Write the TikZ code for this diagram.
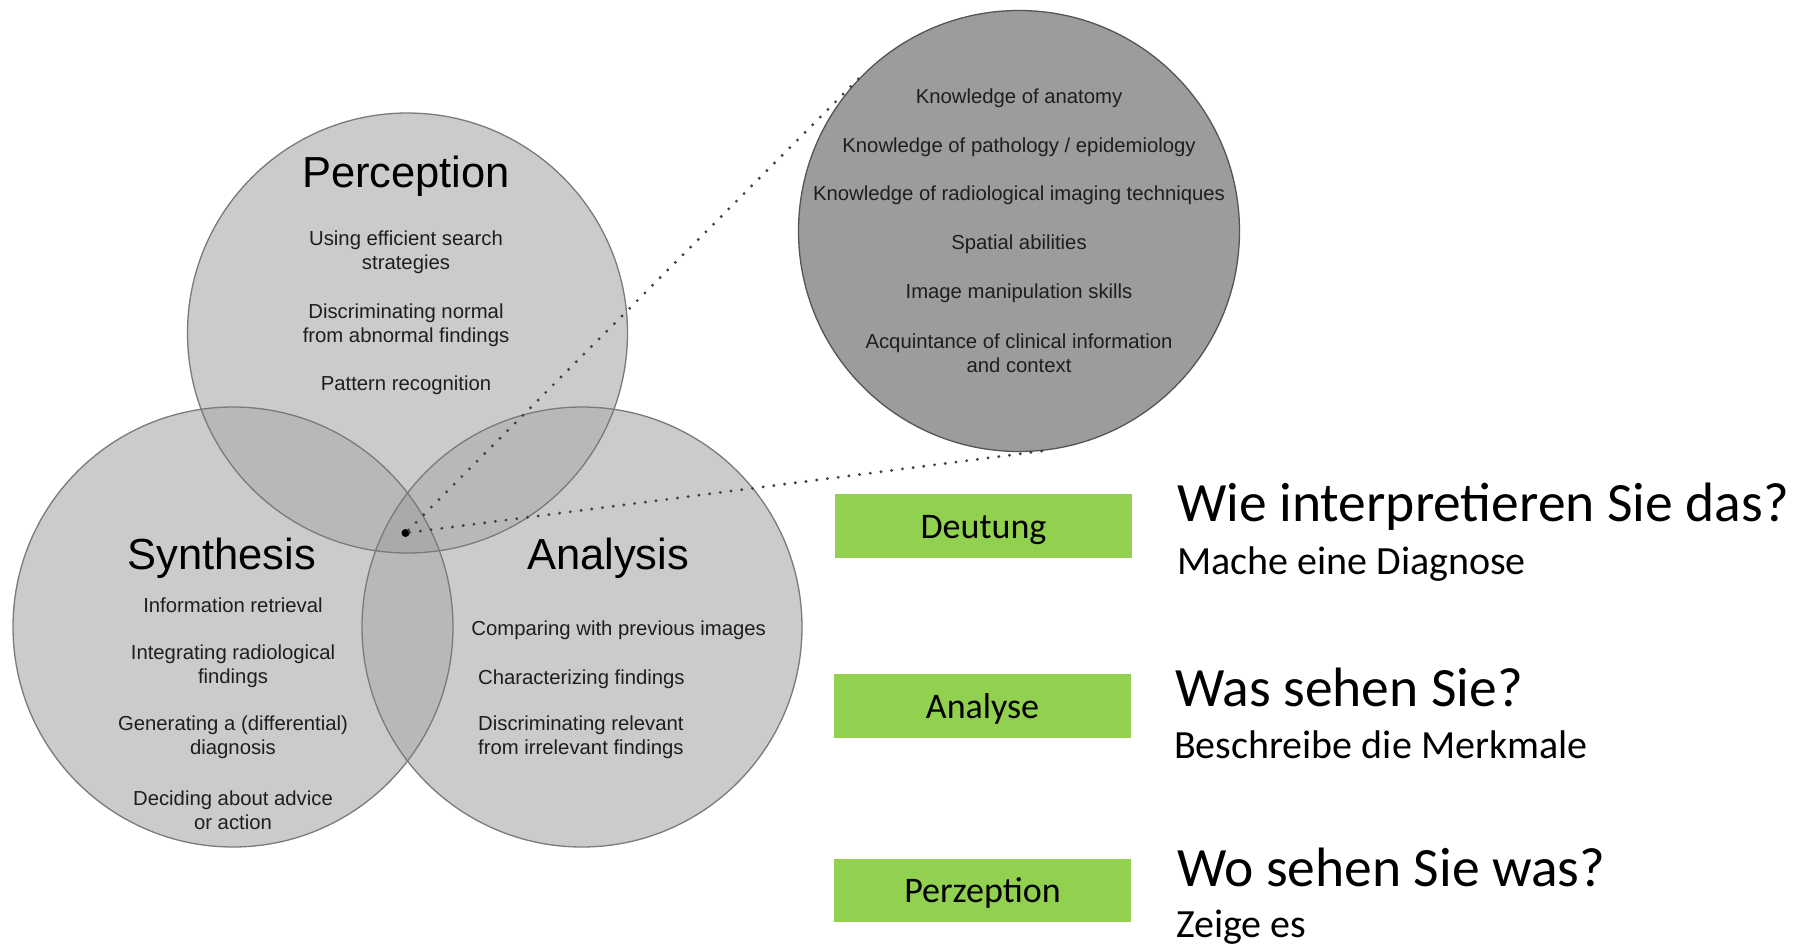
\documentclass[tikz,border=0pt]{standalone}
\usepackage{fontspec}
\setmainfont{Liberation Sans}
\newfontfamily\calib{Carlito}
\usetikzlibrary{calc}
\definecolor{venn}{HTML}{CBCBCB}
\definecolor{venntwo}{HTML}{B8B8B8}
\definecolor{vennthree}{HTML}{AAAAAA}
\definecolor{bigfill}{HTML}{9C9C9C}
\definecolor{rim}{HTML}{7A7A7A}
\definecolor{bigrim}{HTML}{555555}
\definecolor{ink}{HTML}{1E1E1E}
\definecolor{dotgray}{HTML}{404040}
\definecolor{lgreen}{HTML}{92D050}
\begin{document}
\begin{tikzpicture}[x=1pt,y=-1pt,
  venncircle/.style={circle, minimum size=440pt, inner sep=0pt, draw=rim, line width=1.3pt},
  small/.style={font=\fontsize{20.3}{24.2}\selectfont, text=ink, align=center, inner sep=0pt},
  title/.style={font=\fontsize{43.5}{50}\selectfont, text=black, inner sep=0pt},
  dotline/.style={line width=3.2pt, line cap=round, dash pattern=on 0pt off 10.8pt, draw=dotgray},
  greenbox/.style={fill=lgreen, minimum width=297pt, minimum height=63.5pt, inner sep=0pt, text height=32.5pt, text depth=8pt, font=\calib\fontsize{36}{40}\selectfont},
  bigq/.style={font=\calib\fontsize{55.5}{60}\selectfont, anchor=base west, inner sep=0pt},
  smallq/.style={font=\calib\fontsize{40}{44}\selectfont, anchor=base west, inner sep=0pt},
]
\useasboundingbox (0,0) rectangle (1810,943);
\fill[white] (0,0) rectangle (1810,943);
% Venn fills
\coordinate (pc) at (407.5,333);
\coordinate (sc) at (233,627);
\coordinate (ac) at (582,627);
\fill[venn] (pc) circle[radius=220pt] (sc) circle[radius=220pt] (ac) circle[radius=220pt];
\begin{scope}
  \clip (pc) circle[radius=220pt];
  \fill[venntwo] (sc) circle[radius=220pt] (ac) circle[radius=220pt];
\end{scope}
\begin{scope}
  \clip (sc) circle[radius=220pt];
  \fill[venntwo] (ac) circle[radius=220pt];
\end{scope}
\begin{scope}
  \clip (pc) circle[radius=220pt];
  \clip (sc) circle[radius=220pt];
  \fill[vennthree] (ac) circle[radius=220pt];
\end{scope}
\node[venncircle] (perc) at (pc) {};
\node[venncircle] (syn) at (sc) {};
\node[venncircle] (ana) at (ac) {};
% big circle
\node[circle, minimum size=441pt, inner sep=0pt, fill=bigfill, draw=bigrim, line width=1.3pt] (big) at (1019,231) {};
% dot and dotted tangents
\node[circle, fill=black, minimum size=8pt, inner sep=0pt] (dot) at (405.5,533) {};
\draw[dotline] (dot) -- (tangent cs:node=big,point={(dot)},solution=1);
\draw[dotline] (dot) -- (tangent cs:node=big,point={(dot)},solution=2);
% Perception
\node[title] (tperc) at (406,176.5) {Perception};
\node[small] (p1) at (406,252.2) {Using efficient search\\strategies};
\node[small] (p2) at (406,325) {Discriminating normal\\from abnormal findings};
\node[small] (p3) at (406,385.5) {Pattern recognition};
% Synthesis
\node[title] (tsyn) at (221.6,558.5) {Synthesis};
\node[small] (s1) at (233,604.9) {Information retrieval};
\node[small] (s2) at (233,666.5) {Integrating radiological\\findings};
\node[small] (s3) at (233,737) {Generating a (differential)\\diagnosis};
\node[small] (s4) at (233,810) {Deciding about advice\\or action};
% Analysis
\node[title] (tana) at (608,558.5) {Analysis};
\node[small] (a1) at (618.7,630.3) {Comparing with previous images};
\node[small, anchor=west] (a2) at (478,678.8) {Characterizing findings};
\node[small, anchor=west, align=left] (a3) at (478,737) {Discriminating relevant\\from irrelevant findings};
% big circle text
\node[small] (k1) at (1019,98.5) {Knowledge of anatomy};
\node[small] (k2) at (1019,147) {Knowledge of pathology / epidemiology};
\node[small] (k3) at (1019,195.5) {Knowledge of radiological imaging techniques};
\node[small] (k4) at (1019,243.9) {Spatial abilities};
\node[small] (k5) at (1019,293.6) {Image manipulation skills};
\node[small] (k6) at (1019,353) {Acquintance of clinical information\\and context};
% right side
\node[greenbox] (deut) at (983.5,525.8) {Deutung};
\node[greenbox] (anal) at (982.5,706) {Analyse};
\node[greenbox] (perz) at (982.5,890.5) {Perzeption};
\node[bigq] (q1) at (1177,521.7) {Wie interpretieren Sie das?};
\node[smallq] (q1b) at (1177,574.8) {Mache eine Diagnose};
\node[bigq] (q2) at (1175,706) {Was sehen Sie?};
\node[smallq] (q2b) at (1174,758) {Beschreibe die Merkmale};
\node[bigq] (q3) at (1177,886.5) {Wo sehen Sie was?};
\node[smallq] (q3b) at (1176,937) {Zeige es};
\end{tikzpicture}
\end{document}
